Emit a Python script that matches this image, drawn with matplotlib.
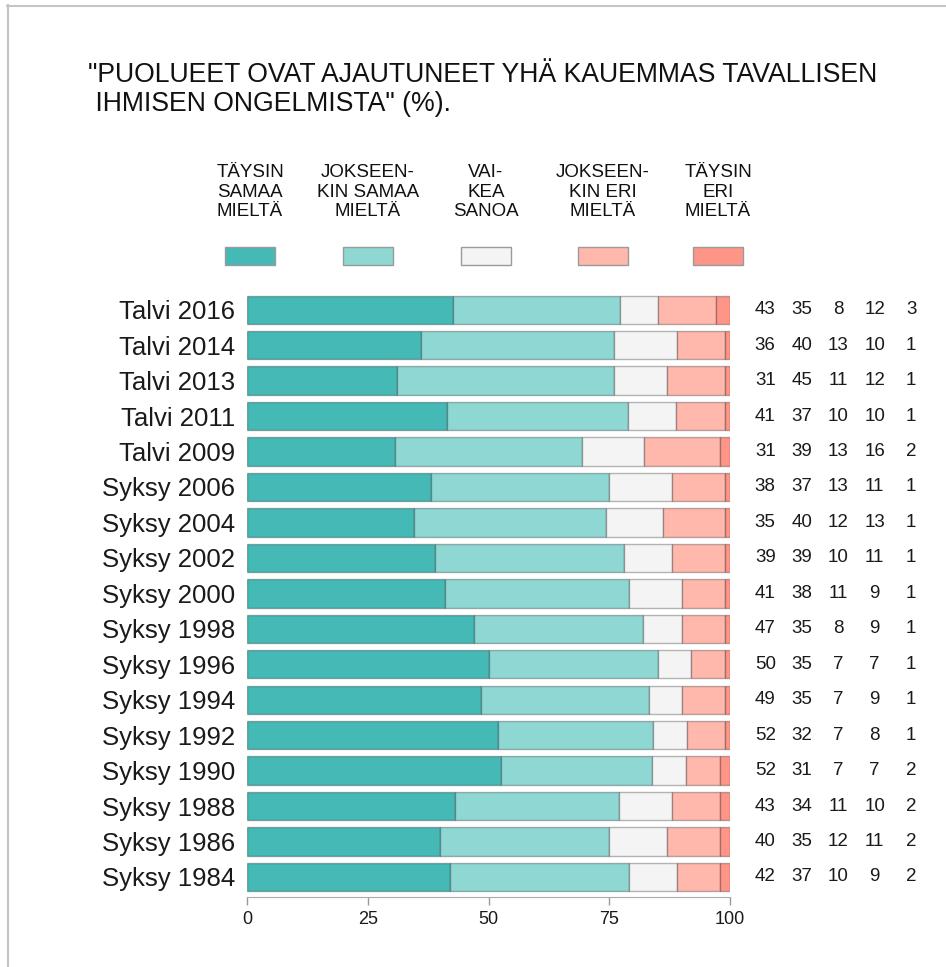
import numpy as np
import matplotlib
matplotlib.use('Agg')
import matplotlib.pyplot as plt
from matplotlib.patches import Rectangle
from matplotlib.lines import Line2D

plt.rcParams['font.family'] = ['Liberation Sans', 'DejaVu Sans']

# data
periods = ['Talvi 2016', 'Talvi 2014', 'Talvi 2013', 'Talvi 2011', 'Talvi 2009',
           'Syksy 2006', 'Syksy 2004', 'Syksy 2002', 'Syksy 2000', 'Syksy 1998',
           'Syksy 1996', 'Syksy 1994', 'Syksy 1992', 'Syksy 1990', 'Syksy 1988',
           'Syksy 1986', 'Syksy 1984']
taysin_samaa = [43, 36, 31, 41, 31, 38, 35, 39, 41, 47, 50, 49, 52, 52, 43, 40, 42]
jokseenkin_samaa = [35, 40, 45, 37, 39, 37, 40, 39, 38, 35, 35, 35, 32, 31, 34, 35, 37]
vaikea_sanoa = [8, 13, 11, 10, 13, 13, 12, 10, 11, 8, 7, 7, 7, 7, 11, 12, 10]
jokseenkin_eri = [12, 10, 12, 10, 16, 11, 13, 11, 9, 9, 7, 9, 8, 7, 10, 11, 9]
taysin_eri = [3, 1, 1, 1, 2, 1, 1, 1, 1, 1, 1, 1, 1, 2, 2, 2, 2]

legend_labels = ['TÄYSIN\nSAMAA\nMIELTÄ', 'JOKSEEN-\nKIN SAMAA\nMIELTÄ', 'VAI-\nKEA\nSANOA',
                 'JOKSEEN-\nKIN ERI\nMIELTÄ', 'TÄYSIN\nERI\nMIELTÄ']
colors = ['#44b9b5', '#8ed7d3', '#f4f4f4', '#ffb8ab', '#ff9587']

series = np.array([taysin_samaa, jokseenkin_samaa, vaikea_sanoa, jokseenkin_eri, taysin_eri], dtype=float)
pct = series / series.sum(axis=0) * 100

W, H = 946, 967
fig = plt.figure(figsize=(W / 100, H / 100), dpi=100)
ax = fig.add_axes([247 / W, (H - 897) / H, 483 / W, 605 / H])

y = np.arange(len(periods))
left = np.zeros(len(periods))
for k in range(5):
    ax.barh(y, pct[k], left=left, height=0.8, color=colors[k],
            edgecolor=(0, 0, 0, 0.28), linewidth=1)
    left += pct[k]

# value columns on the right
for i in range(len(periods)):
    for k in range(5):
        ax.text(107.3 + 7.55 * k, y[i], str(int(series[k, i])), ha='center', va='center',
                fontsize=13.5, color='#1a1a1a', clip_on=False)

ax.set_xlim(0, 100)
ax.set_ylim(16.565, -0.5)
ax.set_yticks(y)
ax.set_yticklabels(periods, fontsize=18.5, color='#1a1a1a')
ax.set_xticks([0, 25, 50, 75, 100])
ax.tick_params(axis='y', length=0, pad=8.5)
ax.tick_params(axis='x', length=6, width=1, color='#999999', labelsize=13,
               labelcolor='#1a1a1a', pad=4)
for s in ['top', 'right', 'left']:
    ax.spines[s].set_visible(False)
ax.spines['bottom'].set_color('#aaaaaa')

# title
fig.text(88 / W, 1 - 62 / H,
         '"PUOLUEET OVAT AJAUTUNEET YHÄ KAUEMMAS TAVALLISEN\n IHMISEN ONGELMISTA" (%).',
         fontsize=19.2, va='top', ha='left', color='#111111', linespacing=1.15)

# legend above the bars
leg_x = [250, 368, 486, 603, 718]
for k in range(5):
    cx = leg_x[k]
    fig.text(cx / W, 1 - 164 / H, legend_labels[k], ha='center', va='top',
             fontsize=13.5, color='#111111', linespacing=1.2)
    fig.patches.append(Rectangle(((cx - 25) / W, 1 - 265 / H), 50 / W, 18 / H,
                                 transform=fig.transFigure, facecolor=colors[k],
                                 edgecolor='#9a9a9a', linewidth=1))

# thin frame at top and left
fig.add_artist(Line2D([7 / W, 1], [1 - 5.5 / H, 1 - 5.5 / H], color='#c4c4c4', lw=1.5))
fig.add_artist(Line2D([7.5 / W, 7.5 / W], [0, 1 - 5 / H], color='#c4c4c4', lw=1.5))

fig.savefig('out.png', dpi=100)
